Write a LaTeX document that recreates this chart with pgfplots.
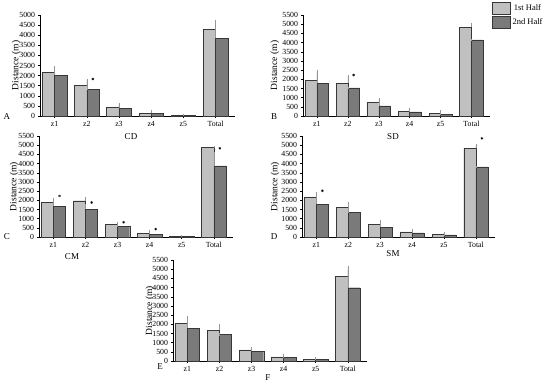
\documentclass[border=0pt]{standalone}
\usepackage{fontspec}
\setmainfont{Liberation Serif}
\usepackage{pgfplots}
\pgfplotsset{compat=1.18}

\definecolor{lightbar}{RGB}{192,192,192}
\definecolor{darkbar}{RGB}{122,122,122}
\definecolor{edge}{RGB}{55,55,55}
\definecolor{errc}{RGB}{150,150,150}

\pgfplotsset{
  panel/.style={
    scale only axis,
    axis x line*=bottom, axis y line*=left,
    axis line style={black, line width=0.5pt, -},
    xmin=-0.45, xmax=5.6, ymin=0,
    xtick={0,...,5}, xticklabels={z1,z2,z3,z4,z5,Total},
    ytick distance=500,
    tick align=outside, major tick length=2pt,
    tick style={black, line width=0.4pt},
    ticklabel style={font=\fontsize{7.8}{8}\selectfont},
    yticklabel style={xshift=0.5pt},
    /pgf/number format/assume math mode=true,
    /pgf/number format/1000 sep={},
    scaled y ticks=false,
    ylabel={Distance (m)},
    ylabel style={font=\fontsize{9.5}{10}\selectfont, at={(axis description cs:#1,0.5)}, anchor=center, rotate=0},
    clip=false,
  },
  lbar/.style={ybar, bar width=0.38, bar shift=-0.19, fill=lightbar, draw=edge, line width=0.45pt,
    error bars/.cd, y dir=plus, y explicit,
    error bar style={errc, line width=0.45pt},
    error mark options={errc, mark size=1.3pt, line width=0.45pt}},
  dbar/.style={ybar, bar width=0.38, bar shift=0.19, fill=darkbar, draw=edge, line width=0.45pt,
    error bars/.cd, y dir=plus, y explicit,
    error bar style={errc, line width=0.45pt},
    error mark options={errc, mark size=1.3pt, line width=0.45pt}},
  star/.style={only marks, mark=asterisk, mark size=1.3pt, black, mark options={line width=0.45pt}},
}

\begin{document}
\begin{tikzpicture}
\useasboundingbox (0pt,0pt) rectangle (550pt,385pt);

% ---------- A (CD) ----------
\begin{axis}[panel=-0.123, at={(40pt,269pt)}, anchor=south west, width=195pt, height=101pt, ymax=5000]
\addplot[lbar] coordinates {(0,2150) +- (0,150) (1,1520) +- (0,250) (2,430) +- (0,170) (3,130) +- (0,70) (4,40) +- (0,10) (5,4290) +- (0,30)};
\addplot[dbar] coordinates {(0,2020) +- (0,410) (1,1310) +- (0,380) (2,380) +- (0,150) (3,130) +- (0,120) (4,40) +- (0,10) (5,3840) +- (0,860)};
\addplot[star] coordinates {(1.19,1830)};
\end{axis}

% ---------- B (SD) ----------
\begin{axis}[panel=-0.15, at={(303pt,269pt)}, anchor=south west, width=187pt, height=101pt, ymax=5500,
  legend style={at={(rel axis cs:1.01,1.13)}, anchor=north west, draw=none, fill=none,
    font=\fontsize{8.5}{9}\selectfont, row sep=1.5pt, inner sep=0pt,
    /tikz/every even column/.append style={column sep=2pt}},
  legend image code/.code={\draw[#1] (0pt,-6pt) rectangle (18pt,6pt);}]
\addplot[lbar] coordinates {(0,1940) +- (0,150) (1,1780) +- (0,360) (2,725) +- (0,180) (3,270) +- (0,110) (4,145) +- (0,110) (5,4830) +- (0,180)};
\addlegendentry{1st Half}
\addplot[dbar] coordinates {(0,1780) +- (0,635) (1,1525) +- (0,0) (2,545) +- (0,180) (3,220) +- (0,110) (4,75) +- (0,35) (5,4140) +- (0,0)};
\addlegendentry{2nd Half}
\addplot[star, forget plot] coordinates {(1.19,2230)};
\end{axis}

% ---------- C (CM) ----------
\begin{axis}[panel=-0.129, at={(39pt,148pt)}, anchor=south west, width=194pt, height=101pt, ymax=5500]
\addplot[lbar] coordinates {(0,1890) +- (0,180) (1,1975) +- (0,140) (2,705) +- (0,35) (3,217) +- (0,120) (4,40) +- (0,5) (5,4880) +- (0,20)};
\addplot[dbar] coordinates {(0,1665) +- (0,385) (1,1520) +- (0,180) (2,560) +- (0,60) (3,140) +- (0,110) (4,40) +- (0,5) (5,3870) +- (0,690)};
\addplot[star] coordinates {(0.19,2240) (1.19,1880) (2.19,800) (3.19,430) (5.19,4830)};
\end{axis}

% ---------- D (SM) ----------
\begin{axis}[panel=-0.14, at={(302pt,148pt)}, anchor=south west, width=193pt, height=101pt, ymax=5500]
\addplot[lbar] coordinates {(0,2185) +- (0,185) (1,1600) +- (0,260) (2,675) +- (0,200) (3,275) +- (0,90) (4,130) +- (0,90) (5,4830) +- (0,180)};
\addplot[dbar] coordinates {(0,1770) +- (0,530) (1,1330) +- (0,530) (2,530) +- (0,160) (3,220) +- (0,55) (4,110) +- (0,40) (5,3820) +- (0,0)};
\addplot[star] coordinates {(0.19,2520) (5.19,5370)};
\end{axis}

% ---------- E (F) ----------
\begin{axis}[panel=-0.119, at={(173pt,24pt)}, anchor=south west, width=194pt, height=101pt, ymax=5500]
\addplot[lbar] coordinates {(0,2030) +- (0,50) (1,1670) +- (0,290) (2,600) +- (0,90) (3,220) +- (0,110) (4,90) +- (0,35) (5,4590) +- (0,510)};
\addplot[dbar] coordinates {(0,1780) +- (0,580) (1,1435) +- (0,0) (2,525) +- (0,110) (3,200) +- (0,35) (4,90) +- (0,20) (5,3990) +- (0,970)};
\end{axis}

% ---------- panel letters and titles ----------
\begin{scope}[every node/.style={font=\fontsize{9}{10}\selectfont, inner sep=0pt}]
\node at (7pt,268pt) {A};
\node at (274pt,268pt) {B};
\node at (7pt,148pt) {C};
\node at (274pt,148pt) {D};
\node at (160pt,18pt) {E};
\node at (131pt,248pt) {CD};
\node at (393pt,248pt) {SD};
\node at (72pt,128pt) {CM};
\node at (393pt,131pt) {SM};
\node at (268pt,7pt) {F};
\end{scope}
\end{tikzpicture}
\end{document}
